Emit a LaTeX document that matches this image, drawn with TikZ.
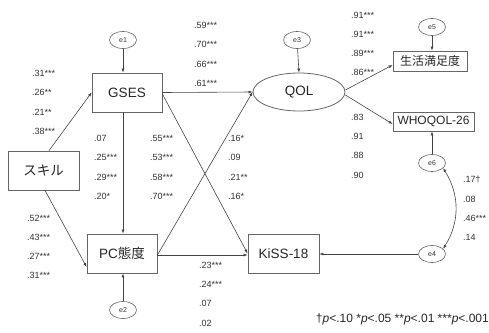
\documentclass[tikz,border=0pt]{standalone}
\usepackage{fontspec}
\setmainfont{Liberation Sans}
\newfontfamily\jp{Noto Sans CJK JP}
\usetikzlibrary{arrows.meta,shapes.geometric}
\definecolor{ln}{HTML}{444444}
\definecolor{bx}{HTML}{666666}
\begin{document}
\begin{tikzpicture}[x=1pt,y=-1pt,
  vbox/.style={draw=bx,line width=0.8pt,rectangle,inner sep=0pt,minimum width=70pt,minimum height=39pt,font=\fontsize{13.5}{14}\selectfont,text=black!85},
  sbox/.style={draw=bx,line width=0.8pt,rectangle,inner sep=0pt,minimum height=20pt,font=\fontsize{12}{13}\selectfont,text=black!85},
  err/.style={draw=bx,line width=0.6pt,ellipse,inner sep=0pt,minimum width=27pt,minimum height=17pt,font=\fontsize{7}{8}\selectfont,text=black!80},
  lat/.style={draw=bx,line width=0.8pt,ellipse,inner sep=0pt,minimum width=92pt,minimum height=38pt,font=\fontsize{13.5}{14}\selectfont,text=black!85},
  arr/.style={draw=ln,line width=0.6pt,-{Latex[length=4pt,width=3pt]}},
  lab/.style={anchor=west,inner sep=0pt,font=\fontsize{9}{10}\selectfont,text=black!80},
]
\useasboundingbox (0,0) rectangle (489,332);
% main nodes
\node[vbox,minimum width=71pt] (skill) at (43.5,170.5) {\jp スキル};
\node[vbox] (gses) at (127,92.5) {GSES};
\node[vbox] (pc) at (122,253.5) {PC{\jp 態度}};
\node[vbox,minimum width=71pt] (kiss) at (283.5,253.5) {KiSS-18};
\node[lat] (qol) at (299,92) {QOL};
\node[sbox,minimum width=74pt] (sat) at (430,61) {\jp 生活満足度};
\node[sbox,minimum width=81pt,minimum height=19pt] (who) at (433.5,121.5) {WHOQOL-26};
% error terms
\node[err] (e1) at (123,40) {e1};
\node[err] (e2) at (123,310) {e2};
\node[err] (e3) at (297,40) {e3};
\node[err] (e5) at (432,27) {e5};
\node[err] (e6) at (432,163) {e6};
\node[err] (e4) at (432,254) {e4};
% connectors
\draw[arr] (e1) -- (e1 |- gses.north);
\draw[arr] (e2) -- (e2 |- pc.south);
\draw[arr] (e3) -- (qol.north);
\draw[arr] (e5) -- (sat.north -| e5);
\draw[arr] (e6) -- (who.south -| e6);
\draw[arr] (e4) -- (kiss.east |- e4);
\draw[arr] (skill.north -| 49,0) -- (gses.west);
\draw[arr] (skill.south -| 45,0) -- (pc.south west |- 0,267);
\draw[arr] (gses.south -| e1) -- (pc.north -| e1);
\draw[arr] (gses.east) -- (qol.west);
\draw[arr] (gses.east |- 0,94) -- (kiss.west);
\draw[arr] (pc.east |- 0,255) -- (qol.west);
\draw[arr] (pc.east |- 0,255) -- (kiss.west |- 0,255);
\draw[arr] (qol.east |- 0,90) -- (sat.west |- 0,65);
\draw[arr] (qol.east |- 0,95) -- (who.west |- 0,124);
\draw[draw=ln,line width=0.6pt,{Latex[length=4pt,width=3pt]}-{Latex[length=4pt,width=3pt]}] (e6.-25) to[bend left=32] (e4.25);
% labels
\foreach \t [count=\i from 0] in {.31***,.26**,.21**,.38***} \node[lab] at (32,73+19.5*\i) {\t};
\foreach \t [count=\i from 0] in {.59***,.70***,.66***,.61***} \node[lab] at (194,25+19.5*\i) {\t};
\foreach \t [count=\i from 0] in {.07,.25***,.29***,.20*} \node[lab] at (94,138+19.5*\i) {\t};
\foreach \t [count=\i from 0] in {.55***,.53***,.58***,.70***} \node[lab] at (150,138+19.5*\i) {\t};
\foreach \t [count=\i from 0] in {.16*,.09,.21**,.16*} \node[lab] at (228,138+19.5*\i) {\t};
\foreach \t [count=\i from 0] in {.52***,.43***,.27***,.31***} \node[lab] at (27,218+19*\i) {\t};
\foreach \t [count=\i from 0] in {.23***,.24***,.07,.02} \node[lab] at (199,265+19.3*\i) {\t};
\foreach \t [count=\i from 0] in {.91***,.91***,.89***,.86***} \node[lab] at (351,15+19.3*\i) {\t};
\foreach \t [count=\i from 0] in {.83,.91,.88,.90} \node[lab] at (351,117+19.3*\i) {\t};
\foreach \t [count=\i from 0] in {.17†,.08,.46***,.14} \node[lab] at (463,180+19*\i) {\t};
\node[anchor=east,inner sep=0pt,font=\fontsize{12}{13}\selectfont,text=black!85] (note) at (489,319)
  {†\textit{p}<.10 *\textit{p}<.05 **\textit{p}<.01 ***\textit{p}<.001};
\end{tikzpicture}
\end{document}
